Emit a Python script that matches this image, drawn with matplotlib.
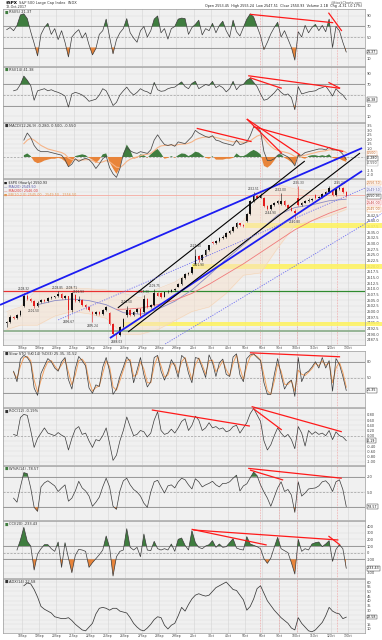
import numpy as np
import matplotlib
matplotlib.use("Agg")
import matplotlib.pyplot as plt
from matplotlib.patches import Rectangle
from matplotlib.transforms import blended_transform_factory as btf

nan = np.nan

# ---------------- data ----------------
dates = ["18Sep", "19Sep", "20Sep", "21Sep", "22Sep", "25Sep", "26Sep", "27Sep", "28Sep", "29Sep",
         "2Oct", "3Oct", "4Oct", "5Oct", "6Oct", "9Oct", "10Oct", "11Oct", "12Oct", "13Oct"]
BARS_PER_DAY = 5

rsi5 = [64, 68, 62, 72, 92, 94, 85, 60, 38, 14,
        55, 68, 76, 55, 66, 45, 62, 40, 12, 50,
        58, 64, 48, 58, 35, 16, 28, 55, 62, 84,
        50, 18, 45, 58, 66, 85, 58, 48, 40, 62,
        70, 50, 62, 84, 90, 58, 66, 46, 66, 70,
        84, 86, 85, 55, 68, 74, 82, 54, 66, 62,
        76, 58, 72, 80, 62, 50, 82, 60, 52, 68,
        84, 94, 88, 70, 52, 26, 40, 56, 68, 78,
        50, 62, 46, 30, 6, 60, 50, 72, 58, 68,
        74, 62, 72, 60, 84, 30, 70, 62, 40, 21.37]

rsi14 = [nan, nan, 58, 60, 70, 86, 78, 68, 40, 58,
         60, 62, 58, 60, 57, 55, 52, 48, 27, 52,
         55, 53, 50, 45, 38, 40, 42, 50, 62, 58,
         45, 30, 36, 50, 58, 65, 56, 50, 55, 62,
         58, 56, 52, 74, 60, 57, 58, 62, 64, 65,
         70, 75, 66, 62, 72, 76, 62, 66, 70, 68,
         76, 64, 68, 64, 56, 62, 76, 60, 68, 70,
         78, 82, 74, 66, 52, 40, 42, 48, 54, 62,
         55, 50, 52, 45, 22, 66, 52, 54, 56, 57,
         58, 62, 64, 67, 58, 48, 62, 55, 50, 41.38]

macd = [nan, nan, nan, nan, nan, 1.9, 2.7, 2.2, 1.3, 0.8,
        0.6, 0.6, 0.6, 0.5, 0.4, 0.3, 0.2, -0.3, -1.1, -0.8,
        -0.2, -0.5, -0.3, -0.15, -0.3, -0.7, -1.3, -0.8, -0.2, 0.1,
        -1.2, -1.9, -2.3, -1.3, 0.3, 1.1, 0.7, 0.5, 0.4, 0.6,
        0.5, 0.4, 0.8, 1.9, 2.5, 1.9, 1.4, 1.3, 1.4, 1.2,
        1.7, 1.6, 1.5, 1.9, 2.3, 3.0, 2.7, 2.5, 2.3, 2.2,
        2.4, 1.9, 1.8, 1.6, 1.5, 1.4, 1.3, 1.9, 1.4, 1.5,
        1.7, 2.4, 3.4, 3.3, 2.9, 0.6, -0.4, -0.4, -0.2, 0.2,
        0.4, 0.2, 0.0, -0.4, -1.0, 0.2, 0.2, 0.5, 0.6, 0.7,
        0.8, 0.9, 0.9, 0.8, 1.1, 0.8, 0.8, 0.7, 0.3, -0.28]

macd_signal = [nan, nan, nan, nan, nan, 1.5, 1.9, 2.1, 1.9, 1.6,
               1.3, 1.1, 0.9, 0.8, 0.7, 0.6, 0.5, 0.3, -0.1, -0.3,
               -0.3, -0.35, -0.35, -0.3, -0.3, -0.4, -0.6, -0.65, -0.55, -0.4,
               -0.55, -0.85, -1.15, -1.2, -0.9, -0.5, -0.25, -0.1, 0.0, 0.15,
               0.25, 0.3, 0.4, 0.7, 1.05, 1.25, 1.3, 1.3, 1.35, 1.3,
               1.4, 1.45, 1.45, 1.55, 1.7, 1.95, 2.1, 2.2, 2.25, 2.25,
               2.3, 2.2, 2.1, 2.0, 1.9, 1.8, 1.7, 1.75, 1.7, 1.65,
               1.65, 1.8, 2.1, 2.35, 2.5, 2.1, 1.6, 1.2, 0.9, 0.75,
               0.65, 0.55, 0.45, 0.3, 0.05, 0.1, 0.1, 0.2, 0.3, 0.4,
               0.5, 0.6, 0.65, 0.7, 0.8, 0.8, 0.8, 0.8, 0.7, 0.5]

macd_hist = [nan, nan, nan, nan, nan, 0.2, 0.4, 0.1, -0.5, -0.7,
             -0.6, -0.4, -0.3, -0.2, -0.2, -0.1, -0.2, -0.5, -1.1, -0.6,
             0.1, 0.2, 0.3, 0.2, -0.1, -0.3, -0.7, -0.3, 0.3, 0.4,
             -0.6, -1.3, -1.9, -1.2, 0.4, 1.4, 0.8, -0.2, -0.1, 0.3,
             0.2, -0.1, 0.3, 0.7, 0.9, 0.4, -0.2, -0.1, 0.1, -0.1,
             0.2, 0.4, 0.35, 0.1, 0.3, 0.6, 0.5, 0.2, -0.1, -0.2,
             0.1, -0.3, -0.3, -0.3, -0.2, -0.2, -0.1, 0.4, 0.1, 0.1,
             0.3, 0.6, 0.8, 0.6, 0.3, -1.0, -1.2, -0.9, -0.4, 0.2,
             0.3, -0.1, -0.3, -0.6, -0.9, 0.4, -0.1, -0.2, 0.1, 0.2,
             0.2, 0.1, 0.2, 0.1, 0.3, -0.1, -0.2, -0.2, -0.4, -0.55]

price_open = [2494.8, 2495.5, 2497.8, 2497.0, 2498.5, 2502.5, 2506.8, 2505.5, 2504.8, 2502.6,
              2504.2, 2505.2, 2504.6, 2505.8, 2506.2, 2506.7, 2507.5, 2506.0, 2506.8, 2500.5,
              2507.2, 2504.5, 2505.2, 2503.0, 2501.8, 2499.8, 2498.8, 2499.8, 2499.0, 2500.5,
              2499.5, 2494.5, 2490.0, 2489.5, 2493.0, 2498.5, 2500.8, 2498.6, 2499.8, 2501.0,
              2499.8, 2505.5, 2501.8, 2503.0, 2508.2, 2508.2, 2506.5, 2508.5, 2508.8, 2509.5,
              2511.0, 2512.0, 2514.8, 2516.5, 2517.0, 2521.0, 2524.5, 2522.5, 2525.0, 2527.2,
              2530.5, 2530.0, 2531.0, 2532.5, 2533.0, 2534.6, 2535.5, 2537.2, 2538.8, 2537.9,
              2540.0, 2543.0, 2548.5, 2550.8, 2550.2, 2550.0, 2546.4, 2545.3, 2546.8, 2547.6,
              2547.5, 2548.8, 2547.0, 2545.8, 2544.5, 2550.0, 2547.0, 2548.0, 2548.6, 2549.2,
              2551.5, 2549.8, 2550.5, 2551.8, 2552.5, 2553.5, 2551.5, 2554.0, 2554.6, 2552.8]
price_high = [2496.0, 2498.3, 2498.2, 2499.0, 2500.5, 2508.32, 2507.5, 2506.0, 2505.2, 2504.5,
              2505.5, 2505.6, 2506.3, 2506.8, 2507.0, 2508.85, 2508.0, 2507.2, 2507.0, 2508.71,
              2507.5, 2506.93, 2505.6, 2503.5, 2502.3, 2500.2, 2500.3, 2500.2, 2501.0, 2502.6,
              2499.8, 2494.9, 2490.5, 2493.5, 2497.0, 2502.5, 2501.2, 2500.2, 2501.5, 2501.4,
              2507.3, 2506.0, 2503.5, 2509.75, 2508.6, 2508.8, 2508.8, 2509.3, 2510.0, 2510.5,
              2512.5, 2515.2, 2517.0, 2517.5, 2519.8, 2527.4, 2525.0, 2525.5, 2527.6, 2529.5,
              2531.0, 2531.5, 2533.0, 2533.5, 2535.0, 2536.0, 2537.6, 2539.3, 2539.2, 2538.4,
              2543.5, 2549.0, 2552.51, 2551.2, 2552.0, 2550.4, 2546.8, 2547.3, 2548.1, 2549.0,
              2552.0, 2549.2, 2547.4, 2546.2, 2545.0, 2555.33, 2548.4, 2549.0, 2549.8, 2550.1,
              2551.8, 2550.9, 2552.2, 2553.0, 2555.2, 2554.0, 2554.4, 2555.24, 2555.0, 2553.2]
price_low = [2493.2, 2495.0, 2496.6, 2496.5, 2498.0, 2502.0, 2505.0, 2504.2, 2501.5, 2502.2,
             2503.8, 2504.2, 2504.2, 2505.4, 2505.8, 2506.3, 2505.6, 2505.6, 2496.67, 2500.0,
             2504.0, 2504.2, 2502.5, 2501.2, 2500.2, 2495.24, 2498.4, 2498.6, 2498.6, 2500.1,
             2494.0, 2489.7, 2488.03, 2489.0, 2492.6, 2497.8, 2498.2, 2498.2, 2499.4, 2497.5,
             2499.4, 2501.4, 2501.4, 2502.6, 2506.7, 2505.9, 2506.2, 2508.1, 2508.5, 2509.1,
             2510.6, 2511.6, 2514.4, 2516.1, 2516.6, 2520.5, 2521.9, 2522.1, 2524.6, 2526.8,
             2529.6, 2529.6, 2530.6, 2532.1, 2532.6, 2534.2, 2535.1, 2536.8, 2537.5, 2537.3,
             2539.6, 2542.6, 2548.1, 2549.8, 2549.8, 2545.9, 2544.9, 2544.9, 2546.4, 2547.2,
             2547.1, 2546.6, 2545.4, 2544.1, 2540.8, 2546.6, 2546.6, 2547.6, 2548.2, 2548.8,
             2549.4, 2549.4, 2550.1, 2551.4, 2552.1, 2550.8, 2551.1, 2553.6, 2552.4, 2550.5]
price_close = [2495.5, 2497.8, 2497.0, 2498.5, 2500.2, 2506.8, 2505.5, 2504.8, 2502.6, 2503.9,
               2505.2, 2504.6, 2505.8, 2506.2, 2506.7, 2507.5, 2506.0, 2506.8, 2500.5, 2508.2,
               2504.5, 2505.2, 2503.0, 2501.8, 2500.6, 2498.8, 2499.8, 2499.0, 2500.5, 2502.2,
               2494.5, 2490.0, 2489.5, 2493.0, 2496.7, 2500.8, 2498.6, 2499.8, 2501.0, 2498.0,
               2505.5, 2501.8, 2503.0, 2508.2, 2507.0, 2506.5, 2508.5, 2508.8, 2509.5, 2510.1,
               2512.0, 2514.8, 2516.5, 2517.0, 2519.4, 2524.5, 2522.5, 2525.0, 2527.2, 2529.1,
               2530.0, 2531.0, 2532.5, 2533.0, 2534.6, 2535.5, 2537.2, 2538.8, 2537.9, 2537.7,
               2543.0, 2548.5, 2550.8, 2550.2, 2551.5, 2546.4, 2545.3, 2546.8, 2547.6, 2548.5,
               2548.8, 2547.0, 2545.8, 2544.5, 2543.5, 2547.0, 2548.0, 2548.6, 2549.2, 2549.6,
               2549.8, 2550.5, 2551.8, 2552.5, 2554.2, 2551.5, 2554.0, 2554.6, 2552.8, 2550.93]

# overlays sampled at day-close bars
ma_bars = [4, 9, 14, 19, 24, 29, 34, 39, 44, 49, 54, 59, 64, 69, 74, 79, 84, 89, 94, 99]
ma20 = [nan, 2503.0, 2504.8, 2505.5, 2504.8, 2503.0, 2499.5, 2498.8, 2501.0, 2504.5,
        2509.5, 2516.0, 2523.0, 2529.5, 2536.0, 2542.5, 2545.8, 2547.0, 2548.8, 2549.5]
ma200_bars = [32, 34, 39, 44, 49, 54, 59, 64, 69, 74, 79, 84, 89, 94, 99]
ma200 = [2501.0, 2501.0, 2501.5, 2503.0, 2505.0, 2508.0, 2512.0, 2516.5, 2521.0, 2526.0,
         2531.0, 2536.0, 2540.0, 2543.3, 2546.0]
bb_bars = [0, 4, 9, 14, 19, 24, 29, 34, 39, 44, 49, 54, 59, 64, 69, 74, 79, 84, 89, 94, 99]
bb_upper = [2500.0, 2502.0, 2510.0, 2510.0, 2510.5, 2510.0, 2509.5, 2508.0, 2506.0, 2510.0, 2513.0,
            2518.0, 2527.0, 2534.0, 2540.0, 2552.0, 2556.0, 2554.0, 2553.0, 2554.0, 2556.5]
bb_lower = [2492.0, 2494.0, 2494.0, 2498.0, 2500.0, 2499.0, 2497.0, 2490.0, 2490.0, 2492.0, 2496.0,
            2500.0, 2502.0, 2508.0, 2516.0, 2517.0, 2528.0, 2538.0, 2540.0, 2542.0, 2545.0]

sto_k = [nan, nan, 62, 42, 85, 92, 88, 78, 30, 16,
         58, 72, 86, 80, 68, 62, 80, 88, 46, 28,
         67, 90, 82, 72, 30, 20, 36, 33, 70, 88,
         62, 18, 28, 52, 70, 89, 80, 40, 64, 88,
         55, 32, 42, 88, 92, 62, 45, 60, 84, 72,
         50, 92, 86, 58, 40, 88, 86, 68, 50, 93,
         78, 52, 78, 85, 56, 52, 89, 95, 55, 42,
         86, 93, 95, 88, 82, 40, 18, 18, 55, 86,
         55, 28, 40, 45, 14, 88, 42, 58, 62, 70,
         80, 68, 88, 68, 82, 24, 86, 75, 52, 25.35]
sto_d = [nan, nan, 60, 48, 72, 88, 90, 82, 45, 22,
         45, 66, 80, 82, 72, 64, 74, 85, 60, 36,
         55, 82, 85, 76, 44, 24, 31, 34, 58, 82,
         70, 32, 26, 44, 64, 83, 84, 52, 56, 80,
         66, 40, 40, 72, 90, 72, 51, 55, 76, 76,
         58, 80, 88, 68, 46, 74, 87, 74, 56, 82,
         83, 61, 70, 82, 65, 53, 77, 93, 68, 46,
         72, 90, 94, 90, 84, 54, 25, 18, 43, 76,
         62, 37, 37, 44, 24, 64, 56, 54, 60, 67,
         77, 72, 82, 73, 78, 40, 68, 79, 60, 31.52]

roc = [nan, nan, 0.05, 0.0, 0.70, 0.82, 0.78, 0.2, -0.45, -0.1,
       0.1, 0.3, 0.1, 0.05, 0.0, 0.12, 0.02, -0.05, -0.55, -0.1,
       0.25, 0.35, 0.05, 0.1, -0.2, -0.45, -0.15, -0.2, 0.0, 0.30,
       -0.3, -0.95, -0.75, -0.2, 0.2, 0.72, 0.35, 0.0, 0.05, 0.2,
       0.15, -0.05, 0.1, 0.6, 0.92, 0.2, 0.05, 0.1, 0.25, 0.1,
       0.3, 0.55, 0.65, 0.2, 0.4, 0.75, 0.6, 0.2, 0.3, 0.5,
       0.3, 0.35, 0.25, 0.3, 0.15, 0.2, 0.35, 0.4, 0.1, 0.3,
       0.5, 0.85, 1.05, 0.8, 0.55, -0.2, -0.55, -0.35, 0.0, 0.3,
       0.1, -0.05, 0.05, -0.15, -0.5, 0.35, 0.1, -0.4, 0.2, 0.05,
       0.15, 0.05, 0.1, 0.0, 0.2, -0.15, 0.15, 0.0, -0.05, -0.19]

willr = [nan, nan, -62, -70, -40, -12, -14, -42, -80, -88,
         -40, -32, -28, -33, -38, -49, -42, -36, -68, -62,
         -48, -29, -42, -48, -58, -78, -70, -60, -40, -23,
         -40, -78, -84, -48, -28, -23, -36, -45, -50, -58,
         -72, -80, -50, -30, -27, -40, -52, -38, -36, -42,
         -30, -23, -26, -36, -44, -24, -30, -40, -36, -33,
         -29, -36, -40, -33, -33, -30, -23, -17, -48, -38,
         -34, -22, -11, -18, -36, -50, -62, -78, -60, -42,
         -30, -49, -45, -56, -90, -30, -58, -52, -44, -43,
         -42, -38, -30, -28, -35, -49, -30, -26, -45, -78.57]

cci = [nan, nan, nan, 40, 190, 380, 170, 100, -260, -20,
       60, 120, 120, 60, 20, 160, -220, 150, -80, -300,
       -40, 50, 40, 20, -220, -150, -90, -30, 40, 250,
       80, -350, -60, 20, 40, 360, 80, 40, 80, -60,
       280, 40, 30, 170, 60, 40, 60, 40, 130, 20,
       200, 220, 110, 40, 330, 150, 80, 60, 100, 120,
       180, 80, 130, 80, 90, 150, 210, 70, 50, 40,
       240, 130, 110, 90, 60, -90, -160, -80, 80, 230,
       60, 30, 0, -150, -320, 200, 20, 60, 40, 130,
       150, 160, 90, 130, 180, -130, 50, 120, 60, -233.4]

adx = [nan, nan, nan, nan, nan, 56, 59, 58, 52, 44,
       34, 31, 29, 27, 23, 22, 21, 21, 22, 19,
       15, 12, 9, 8, 12, 16, 26, 32, 33, 32,
       30, 32, 32, 29, 28, 27, 22, 16, 12, 9,
       8, 11, 15, 20, 23, 22, 14, 10, 14, 16,
       24, 33, 29, 36, 42, 46, 47.5, 46, 45, 46,
       50, 54, 56, 58, 60, 56, 52, 51, 46, 41,
       30, 34, 42, 53, 56, 48, 40, 35, 30, 26,
       22, 19, 16, 11, 9, 22, 16, 12, 8, 7,
       9, 13, 17, 24, 33, 29, 27, 26, 21, 22.58]

# hand-drawn annotation lines (bar index, value)
marker_bars = [73.9, 79.5, 84.5, 96.4]
rsi5_lines = [((70.9, 93.2), (95.2, 77.2)), ((93.8, 96.3), (97.7, 61.4))]
rsi14_lines = [((70.4, 86.7), (97.2, 62.7)), ((70.9, 82.9), (80.2, 62.7)), ((93.8, 74.1), (97.2, 62.7))]
macd_lines = [((55.4, 3.23), (71.4, 1.73)), ((70.0, 4.28), (80.2, 0.41)), ((70.0, 4.28), (85.5, 0.23)),
              ((71.9, 3.42), (98.1, 0.60))]
sto_lines = [((70.9, 97.0), (97.2, 89.4))]
roc_lines = [((42.3, 0.99), (70.9, 0.37)), ((71.4, 1.12), (97.7, 0.15)), ((71.8, 1.05), (80.2, 0.22))]
wr_lines = [((70.4, -3.6), (97.7, -23.0)), ((70.9, -6.9), (80.6, -26.5))]
cci_lines = [((53.9, 351), (75.8, 115)), ((54.4, 340), (96.7, 190)), ((93.8, 250), (97.2, 115))]
blue_lines = [((-1.95, 2502.9), (103.6, 2572.0)), ((30.1, 2488.3), (103.6, 2561.9))]
black_lines = [((32.4, 2501.6), (86.9, 2566.3)), ((35.4, 2491.0), (103.0, 2569.8))]
dotted_lines = [((15.0, 2496.3), (104.5, 2554.4)), ((46.2, 2485.7), (109.7, 2543.4))]
resist_level, resist_break = 2508.85, 39.7
support_level = 2491.4
salmon_level = 2551.5
yellow_levels = [2538.0, 2520.0, 2494.5]
yellow_from = [69.5, 54.0, 33.9]
hi_label_bars = [5, 15, 19, 21, 35, 40, 43, 55, 72, 80, 85, 97]
lo_label_bars = [8, 18, 25, 32, 56, 77, 84]

# ---------------- figure ----------------
W, H = 382, 640
fig = plt.figure(figsize=(W / 100, H / 100), dpi=100)
fig.patch.set_facecolor("white")
N = len(price_close)
x = np.arange(N)
XL = (-1.08, 104.46)
day_pos = [BARS_PER_DAY * k - 0.5 for k in range(1, len(dates) + 1)]
GREEN = "#3f7d3f"
ORANGE = "#e8843a"
LINE = "#3a3a3a"
RED = "#ff1a1a"


def panel(top, bot, ylim, yticks, fmt="{:g}", grid_ticks=None):
    ax = fig.add_axes([3 / W, 1 - bot / H, 362 / W, (bot - top) / H])
    ax.set_facecolor("#f0f0f0")
    ax.set_xlim(*XL)
    ax.set_ylim(*ylim)
    ax.set_xticks(day_pos)
    ax.set_xticklabels([])
    ax.yaxis.tick_right()
    ax.set_yticks(yticks)
    ax.set_yticklabels([fmt.format(t) for t in yticks])
    ax.tick_params(axis="both", length=0, labelsize=2.6, colors="#404040", pad=1.2)
    ax.grid(True, axis="x", color="#d4d4d4", lw=0.4)
    ax.set_axisbelow(True)
    for g in (grid_ticks if grid_ticks is not None else yticks):
        ax.axhline(g, color="#dddddd", lw=0.35, zorder=0.5)
    for s in ax.spines.values():
        s.set_color("#9a9a9a")
        s.set_linewidth(0.5)
    for v in marker_bars:
        ax.axvline(v, color="#f09090", lw=0.5, ls=(0, (1, 1.3)), zorder=1)
    return ax


def vbox(ax, y, txt, ec="#222222", tc="#111111", fc="white"):
    ax.text(1.006, y, txt, transform=btf(ax.transAxes, ax.transData), fontsize=2.3, color=tc,
            va="center", ha="left", clip_on=False, zorder=8,
            bbox=dict(boxstyle="square,pad=0.1", fc=fc, ec=ec, lw=0.3))


def header(ax, txt, color="#333333", sq=None):
    if sq:
        ax.text(0.004, 0.975, "\u25A0", transform=ax.transAxes, fontsize=2.6, color=sq,
                va="top", ha="left", zorder=9)
        ax.text(0.016, 0.975, txt, transform=ax.transAxes, fontsize=2.6, color=color,
                va="top", ha="left", zorder=9)
    else:
        ax.text(0.004, 0.975, txt, transform=ax.transAxes, fontsize=2.6, color=color,
                va="top", ha="left", zorder=9)


def levels(ax, hi, lo, mid):
    ax.axhline(hi, color="#8c8c8c", lw=0.6, zorder=1.5)
    ax.axhline(lo, color="#8c8c8c", lw=0.6, zorder=1.5)
    ax.axhline(mid, color="#9c9c9c", lw=0.5, ls=(0, (3, 2)), zorder=1.5)


def osc(ax, vals, hi, lo, fill=True):
    v = np.array(vals, float)
    if fill:
        ok = ~np.isnan(v)
        ax.fill_between(x, hi, v, where=ok & (np.nan_to_num(v) >= hi), interpolate=True,
                        color=GREEN, lw=0, zorder=2)
        ax.fill_between(x, lo, v, where=ok & (np.nan_to_num(v, nan=lo + 1) <= lo), interpolate=True,
                        color=ORANGE, lw=0, zorder=2)
    ax.plot(x, v, color=LINE, lw=0.5, zorder=3)


def tlines(ax, lines, color=RED, lw=0.9, ls="-"):
    for (x0, y0), (x1, y1) in lines:
        ax.plot([x0, x1], [y0, y1], color=color, lw=lw, ls=ls, clip_on=False, zorder=7,
                solid_capstyle="butt")


# title lines
fig.text(6 / W, 1 - 3 / H, "$SPX", fontsize=3.0, weight="bold", va="center", ha="left")
fig.text(19 / W, 1 - 3 / H, "S&P 500 Large Cap Index  INDX", fontsize=2.6, va="center", ha="left",
         color="#333333")
fig.text(6 / W, 1 - 6.5 / H, "12-Oct-2017", fontsize=2.4, va="center", ha="left", color="#333333")
fig.text(362 / W, 1 - 2.5 / H, "@StockCharts.com", fontsize=2.4, va="center", ha="right",
         color="#555555")
fig.text(362 / W, 1 - 6.5 / H,
         "Open 2553.45  High 2555.24  Low 2547.51  Close 2550.93  Volume 2.1B  Chg -4.31 (-0.17%)",
         fontsize=2.4, va="center", ha="right", color="#222222")

# ---- RSI(5)
ax1 = panel(9, 66, (-5.2, 103.3), [90, 70, 50, 10], grid_ticks=[90, 70, 50, 30, 10])
levels(ax1, 70, 30, 50)
osc(ax1, rsi5, 70, 30)
tlines(ax1, rsi5_lines)
header(ax1, "RSI(5) 21.37", sq=GREEN)
vbox(ax1, rsi5[-1], "21.37")

# ---- RSI(14)
ax2 = panel(67, 122, (-1.4, 103.3), [90, 70, 30, 10], grid_ticks=[90, 70, 50, 30, 10])
levels(ax2, 70, 30, 50)
osc(ax2, rsi14, 70, 30)
tlines(ax2, rsi14_lines)
header(ax2, "RSI(14) 41.38", sq=GREEN)
vbox(ax2, rsi14[-1], "41.38")

# ---- MACD
ax3 = panel(123, 178, (-2.37, 3.83), [3.5, 3.0, 2.5, 2.0, 1.5, 1.0, -1.5, -2.0], "{:.1f}",
            grid_ticks=[3.5, 3.0, 2.5, 2.0, 1.5, 1.0, 0.5, -0.5, -1.0, -1.5, -2.0])
ax3.axhline(0, color="#9c9c9c", lw=0.5, ls=(0, (3, 2)), zorder=1.5)
hv = np.array(macd_hist, float)
ok = ~np.isnan(hv)
ax3.fill_between(x, 0, hv, where=ok & (np.nan_to_num(hv) >= 0), interpolate=True, color=GREEN, lw=0, zorder=2)
ax3.fill_between(x, 0, hv, where=ok & (np.nan_to_num(hv) <= 0), interpolate=True, color=ORANGE, lw=0, zorder=2)
ax3.plot(x, macd_signal, color="#f6b488", lw=0.8, zorder=3)
ax3.plot(x, macd, color="#4a4a4a", lw=0.55, zorder=4)
tlines(ax3, macd_lines)
header(ax3, "MACD(12,26,9) -0.280, 0.500, -0.550", sq="#333333")
vbox(ax3, 0.42, "0.500", ec="#f0a070", tc="#c06020")
vbox(ax3, -0.15, "-0.280")
vbox(ax3, -0.72, "-0.550", ec="#999999", tc="#444444")

# ---- Price
ptick_all = [2557.5 - 2.5 * k for k in range(29)]
ptick = [t for t in ptick_all if t < 2543.5]
ax4 = panel(179, 345, (2485.25, 2558.38), ptick, "{:.1f}", grid_ticks=ptick_all)
ax4.set_xticklabels(dates)
ax4.tick_params(axis="x", labelsize=2.2, pad=0.8)
for lv, x0 in zip(yellow_levels, yellow_from):
    ax4.add_patch(Rectangle((x0, lv - 1.05), 109.4 - x0, 2.1, color="#fff35c", alpha=0.85, lw=0,
                            clip_on=False, zorder=1.2))
ax4.fill_between(bb_bars, bb_lower, bb_upper, color="#f7e1cc", alpha=0.5, lw=0, zorder=1.3)
ax4.plot(bb_bars, bb_upper, color="#f5d2b2", lw=0.35, zorder=1.4)
ax4.plot(bb_bars, bb_lower, color="#f5d2b2", lw=0.35, zorder=1.4)
ax4.plot([XL[0], resist_break], [resist_level] * 2, color="#e83030", lw=0.9, zorder=1.6)
ax4.plot([resist_break, XL[1]], [resist_level] * 2, color="#2f8a2f", lw=0.9, zorder=1.6)
ax4.axhline(support_level, color="#8fb08f", lw=1.3, zorder=1.6)
ax4.axhline(salmon_level, color="#f5aaa0", lw=0.6, zorder=1.6)
ax4.plot(ma_bars, ma20, color="#8a8ac4", lw=0.6, zorder=3)
ax4.plot(ma200_bars, ma200, color="#f07a7a", lw=0.6, zorder=3)
o = np.array(price_open); h = np.array(price_high); l = np.array(price_low); c = np.array(price_close)
cols = np.where(c >= o, "#111111", "#e31d1d")
ax4.vlines(x, l, h, colors=cols, lw=0.4, zorder=4)
ax4.bar(x, np.maximum(np.abs(c - o), 0.25), bottom=np.minimum(o, c), width=0.45, color=cols, lw=0,
        zorder=4)
for i in hi_label_bars:
    ax4.text(x[i], h[i] + 0.6, f"{h[i]:.2f}", fontsize=2.1, color="#333333", ha="center", va="bottom",
             zorder=5)
for i in lo_label_bars:
    ax4.text(x[i], l[i] - 0.6, f"{l[i]:.2f}", fontsize=2.1, color="#333333", ha="center", va="top",
             zorder=5)
tlines(ax4, blue_lines, color="#1c1cf2", lw=1.3)
tlines(ax4, black_lines, color="#000000", lw=0.8)
tlines(ax4, dotted_lines, color="#6f6ff0", lw=0.6, ls=(0, (1.5, 1.5)))
ax4.text(0.004, 0.985, "\u25A0 $SPX (Hourly) 2550.93", transform=ax4.transAxes, fontsize=2.4,
         color="#222222", va="top", zorder=9)
ax4.text(0.004, 0.962, "\u2014 MA(20) 2549.50", transform=ax4.transAxes, fontsize=2.4,
         color="#5a5aaa", va="top", zorder=9)
ax4.text(0.004, 0.939, "\u2014 MA(200) 2546.00", transform=ax4.transAxes, fontsize=2.4,
         color="#e03a3a", va="top", zorder=9)
ax4.text(0.004, 0.916, "\u25A0 BB(20,2.0) 2545.00 - 2549.50 - 2556.50", transform=ax4.transAxes,
         fontsize=2.4, color="#e09a55", va="top", zorder=9)
vbox(ax4, 2556.6, "2556.50", ec="#f0a060", tc="#c06020")
vbox(ax4, 2553.7, "2549.50", ec="#9090c8", tc="#4a4a9a")
vbox(ax4, 2550.8, "2550.93")
vbox(ax4, 2547.9, "2546.00", ec="#f07070", tc="#c02020")
vbox(ax4, 2545.0, "2545.00", ec="#f0a060", tc="#c06020")

# ---- Slow STO
ax5 = panel(351, 407, (-6.1, 100.4), [80, 50], grid_ticks=[80, 50, 20])
levels(ax5, 80, 20, 50)
ax5.plot(x, sto_d, color="#f0a060", lw=0.7, zorder=3)
ax5.plot(x, sto_k, color=LINE, lw=0.5, zorder=4)
tlines(ax5, sto_lines)
header(ax5, "Slow STO %K(14) %D(3) 25.35, 31.52", sq="#333333")
vbox(ax5, 25.35, "25.35")

# ---- ROC
ax6 = panel(408, 465, (-1.127, 1.065), [0.8, 0.6, 0.4, 0.2, 0.0, -0.4, -0.6, -0.8, -1.0], "{:.2f}",
            grid_ticks=[0.8, 0.6, 0.4, 0.2, -0.2, -0.4, -0.6, -0.8, -1.0])
ax6.axhline(0, color="#9c9c9c", lw=0.5, ls=(0, (3, 2)), zorder=1.5)
ax6.plot(x, roc, color=LINE, lw=0.5, zorder=3)
tlines(ax6, roc_lines)
header(ax6, "ROC(12) -0.19%", sq="#333333")
vbox(ax6, -0.19, "-0.19")

# ---- Williams %R
ax7 = panel(466, 520, (-104.9, 1.0), [-20, -50], grid_ticks=[-20, -50, -80])
levels(ax7, -20, -80, -50)
osc(ax7, willr, -20, -80)
tlines(ax7, wr_lines)
header(ax7, "W%R(14) -78.57", sq=GREEN)
vbox(ax7, -78.57, "-78.57")

# ---- CCI
ax8 = panel(521, 578, (-379.5, 475), [400, 300, 200, 100, 0, -100, -300],
            grid_ticks=[400, 300, 200, 100, 0, -100, -200, -300])
levels(ax8, 100, -100, 0)
osc(ax8, cci, 100, -100)
tlines(ax8, cci_lines)
header(ax8, "CCI(20) -233.43", sq=GREEN)
vbox(ax8, -233.4, "-233.43")

# ---- ADX
ax9 = panel(579, 633, (5.7, 63.2), [60, 55, 50, 45, 40, 35, 30, 15, 10],
            grid_ticks=[60, 55, 50, 45, 40, 35, 30, 25, 20, 15, 10])
ax9.plot(x, adx, color=LINE, lw=0.55, zorder=3)
ax9.set_xticklabels(dates)
ax9.tick_params(axis="x", labelsize=2.2, pad=0.8)
header(ax9, "ADX(14) 22.58", sq="#333333")
vbox(ax9, 22.58, "22.58")

fig.savefig("out.png", dpi=100, facecolor="white")
